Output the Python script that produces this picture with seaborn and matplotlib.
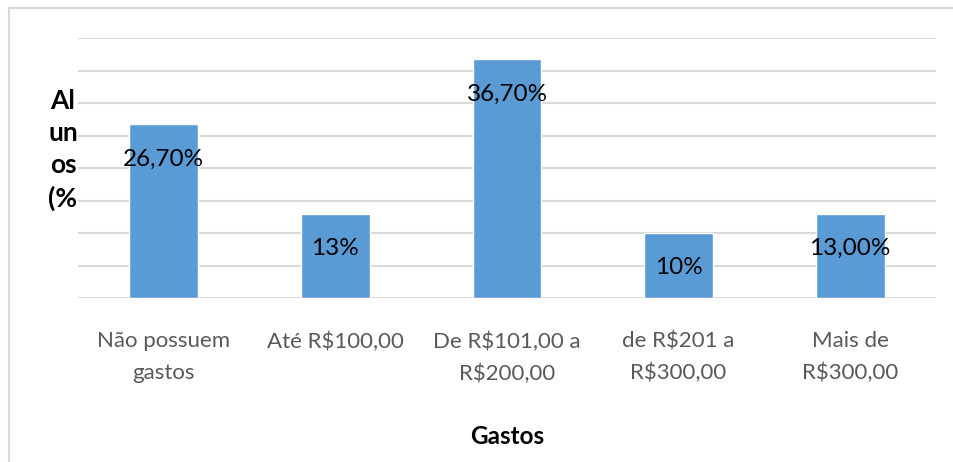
import matplotlib
matplotlib.use("Agg")
import matplotlib.pyplot as plt
import seaborn as sns
import pandas as pd
from matplotlib.lines import Line2D

categories = ["Não possuem\ngastos", "Até R$100,00", "De R$101,00 a\nR$200,00",
              "de R$201 a\nR$300,00", "Mais de\nR$300,00"]
values = [26.7, 13.0, 36.7, 10.0, 13.0]
value_labels = ["26,70%", "13%", "36,70%", "10%", "13,00%"]
y_ticks = [0, 5, 10, 15, 20, 25, 30, 35, 40]

sns.set_theme(style="white")
plt.rcParams['font.family'] = ['Lato', 'DejaVu Sans']

df = pd.DataFrame({"cat": categories, "val": values})

fig = plt.figure(figsize=(9.54, 4.62), dpi=100)
ax = fig.add_axes([78/954, 1-298/462, (936-78)/954, (298-38)/462])

sns.barplot(data=df, x="cat", y="val", color="#5B9BD5", saturation=1,
            width=0.4, ax=ax, zorder=3)

ax.set_ylim(0, 40)
ax.set_xlim(-0.5, 4.5)
ax.set_yticks(y_ticks)
ax.set_yticklabels([])
ax.tick_params(axis='y', length=0)
ax.tick_params(axis='x', length=0, pad=24, labelsize=16, labelcolor="#595959")
for t in ax.get_xticklabels():
    t.set_linespacing(1.7)
ax.grid(axis='y', color="#D9D9D9", linewidth=1.5, zorder=0)
ax.set_axisbelow(True)
for s in ax.spines.values():
    s.set_visible(False)

for i, (v, lab) in enumerate(zip(values, value_labels)):
    ax.annotate(lab, xy=(i, v), xytext=(0, -25), textcoords="offset points",
                ha="center", va="center", fontsize=17.5, color="black", zorder=4)

ax.set_xlabel("Gastos", fontsize=17.5, fontweight="bold", color="black")
ax.xaxis.set_label_coords(0.5, (298-425)/260)
ax.set_ylabel("Al\nun\nos\n(%", fontsize=19, fontweight="bold", color="black",
              rotation=0, ha="center", va="center", linespacing=1.4)
ax.yaxis.set_label_coords((63-78)/858, (298-150)/260)

# chart frame (left and top edges visible)
fig.add_artist(Line2D([9.5/954, 9.5/954], [0, 1-8/462], color="#D9D9D9", lw=1.5,
                      transform=fig.transFigure))
fig.add_artist(Line2D([9.5/954, 1], [1-8/462, 1-8/462], color="#D9D9D9", lw=1.5,
                      transform=fig.transFigure))

fig.savefig("out.png", dpi=100)
